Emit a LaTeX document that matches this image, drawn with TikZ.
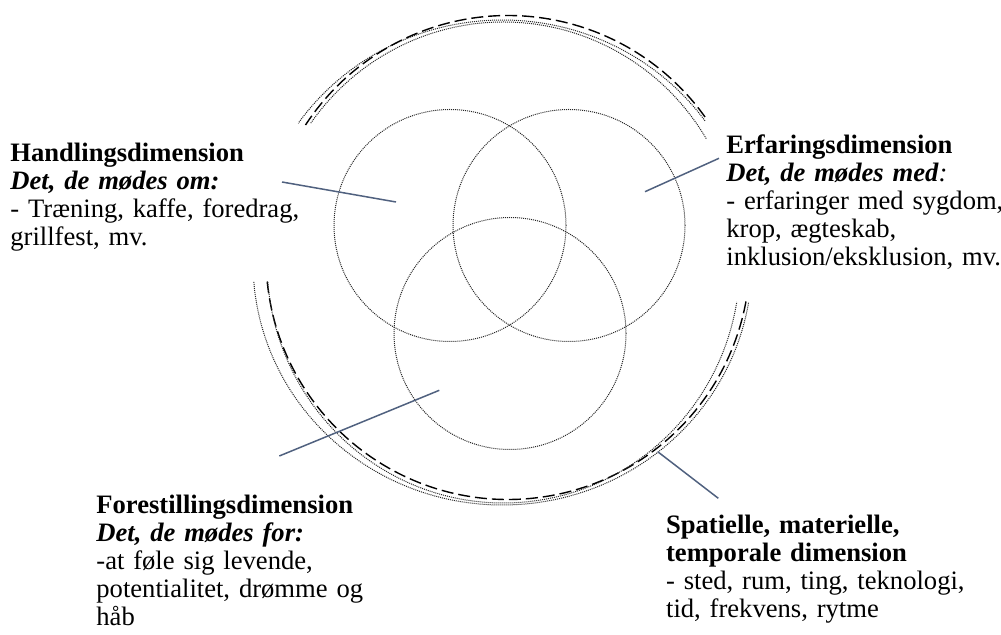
\documentclass[tikz,border=0pt]{standalone}
\usepackage{fontspec}
\setmainfont{Liberation Serif}
\definecolor{conn}{HTML}{50617F}
\begin{document}
\begin{tikzpicture}[x=0.5pt,y=0.5pt,
  fine dots/.style={line width=0.5pt,dash pattern=on 0.5pt off 0.5pt,black!85},
  long dash/.style={line width=0.7pt,dash pattern=on 6pt off 2.5pt,black},
  connector/.style={line width=0.75pt,conn},
  label/.style={anchor=base west,inner sep=0pt,text width=160pt,align=left,
    font=\fontsize{13.3pt}{14pt}\selectfont}]
\useasboundingbox (0,0) rectangle (1001,-635);
% three overlapping circles
\draw[fine dots] (450,-225.5) circle[radius=116];
\draw[fine dots] (569,-225.5) circle[radius=116];
\draw[fine dots] (510,-333.5) circle[radius=116];
% outer arcs, top part
\draw[fine dots] (502.5,-262.5) ++(35.75:249.5 and 242.5) arc[start angle=35.75,end angle=144.97,x radius=249.5,y radius=242.5];
\draw[long dash] (508,-257.5) ++(35.5:242 and 242) arc[start angle=35.5,end angle=146.8,x radius=242,y radius=242];
\draw[fine dots] (503.5,-262.5) ++(31:236.5 and 240.5) arc[start angle=31,end angle=144.8,x radius=236.5,y radius=240.5];
% outer arcs, bottom part
\draw[fine dots] (502.5,-262.5) ++(184.6:249.5 and 242.5) arc[start angle=184.6,end angle=350.6,x radius=249.5,y radius=242.5];
\draw[long dash] (508,-257.5) ++(185.7:242 and 242) arc[start angle=185.7,end angle=349.65,x radius=242,y radius=242];
\draw[fine dots] (503.5,-262.5) ++(184.65:236.5 and 240.5) arc[start angle=184.65,end angle=350.55,x radius=236.5,y radius=240.5];
% labels
\node[label] (handling) at (10,-161.7) {\textbf{Handlingsdimension}\\
\textbf{\textit{Det, de mødes om:}}\\
- Træning, kaffe, foredrag,\\
grillfest, mv.};
\node[label] (erfaring) at (726,-153.3) {\textbf{Erfaringsdimension}\\
\textbf{\textit{Det, de mødes med}}\textit{:}\\
- erfaringer med sygdom,\\
krop, ægteskab,\\
inklusion/eksklusion, mv.};
\node[label] (forestilling) at (96,-513.5) {\textbf{Forestillingsdimension}\\
\textbf{\textit{Det, de mødes for:}}\\
-at føle sig levende,\\
potentialitet, drømme og\\
håb};
\node[label] (spatial) at (665.7,-533.3) {\textbf{Spatielle, materielle,}\\
\textbf{temporale dimension}\\
- sted, rum, ting, teknologi,\\
tid, frekvens, rytme};
% connector end points
\coordinate (h1) at (282,-182);
\coordinate (h2) at (396,-202);
\coordinate (e1) at (719,-158.3);
\coordinate (e2) at (645,-191.7);
\coordinate (f1) at (279.3,-456);
\coordinate (f2) at (439.3,-390.3);
\coordinate (s1) at (657.7,-451.7);
\coordinate (s2) at (718.3,-498.3);
\draw[connector] (h1) -- (h2);
\draw[connector] (e1) -- (e2);
\draw[connector] (f1) -- (f2);
\draw[connector] (s1) -- (s2);
\end{tikzpicture}
\end{document}
